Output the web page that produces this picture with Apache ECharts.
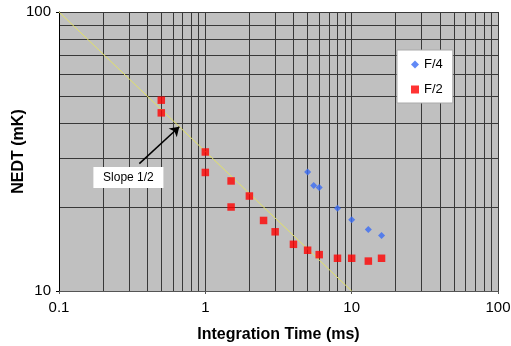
<!DOCTYPE html>
<html><head><meta charset="utf-8">
<script src="https://cdn.jsdelivr.net/npm/echarts@6/dist/echarts.min.js"></script>
<style>html,body{margin:0;padding:0;background:#fff}#c{width:511px;height:346px}</style>
</head><body><div id="c"></div>
<script>
// Data
const f4Time = [5, 5.5, 6, 8, 10, 13, 16];
const f4Nedt = [26.7, 23.9, 23.5, 19.8, 18.0, 16.6, 15.8];
const f2Time = [0.5, 0.5, 1, 1, 1.5, 1.5, 2, 2.5, 3, 4, 5, 6, 8, 10, 13, 16];
const f2Nedt = [48.3, 43.5, 31.5, 26.6, 24.8, 20.0, 21.9, 17.9, 16.3, 14.7, 14.0, 13.5, 13.1, 13.1, 12.8, 13.1];
const slopeTime = [0.1, 10];
const slopeNedt = [100, 10];
const xMinorGrid = [0.2,0.3,0.4,0.5,0.6,0.7,0.8,0.9,2,3,4,5,6,7,8,9,20,30,40,50,60,70,80,90];
const yMinorGrid = [20,30,40,50,60,70,80,90];
const xTickLabels = ['0.1','1','10','100'];
const yTickLabels = ['10','100'];

const FONT = 'Liberation Sans, Arial, sans-serif';
const GRIDC = '#383838';
const zip = (a, b) => a.map((v, i) => [v, b[i]]);

const chart = echarts.init(document.getElementById('c'), null, {renderer: 'canvas'});
chart.setOption({
  animation: false,
  textStyle: {fontFamily: FONT},
  grid: {left: 59, right: 13, top: 12, bottom: 55, show: true, backgroundColor: '#c0c0c0', borderWidth: 0,
    containLabel: false, outerBoundsMode: 'none'},
  xAxis: {
    type: 'log', logBase: 10, min: 0.1, max: 100,
    name: 'Integration Time (ms)', nameLocation: 'middle', nameGap: 36, nameMoveOverlap: false,
    nameTextStyle: {fontFamily: FONT, fontSize: 16, fontWeight: 'bold', color: '#000'},
    axisLine: {show: true, lineStyle: {color: '#555', width: 1}},
    axisTick: {show: true, length: 3, lineStyle: {color: '#555'}},
    axisLabel: {fontFamily: FONT, fontSize: 15, color: '#000', margin: 9,
      formatter: v => xTickLabels.find(t => Math.abs(parseFloat(t) - v) < 1e-9 * Math.max(1, v)) || ''},
    splitLine: {show: true, lineStyle: {color: GRIDC, width: 1}}
  },
  yAxis: {
    type: 'log', logBase: 10, min: 10, max: 100,
    name: 'NEDT (mK)', nameLocation: 'middle', nameGap: 32, nameMoveOverlap: false,
    nameTextStyle: {fontFamily: FONT, fontSize: 16, fontWeight: 'bold', color: '#000'},
    axisLine: {show: true, lineStyle: {color: '#000', width: 1}},
    axisTick: {show: true, length: 3, lineStyle: {color: '#000'}},
    axisLabel: {fontFamily: FONT, fontSize: 15, color: '#000', margin: 8,
      formatter: v => yTickLabels.find(t => Math.abs(parseFloat(t) - v) < 1e-9 * v) || ''},
    splitLine: {show: true, lineStyle: {color: GRIDC, width: 1}}
  },
  legend: {
    orient: 'vertical', left: 397, top: 50,
    backgroundColor: '#fff', borderColor: '#aaa', borderWidth: 1, borderRadius: 0,
    padding: [8, 10, 7, 14], itemGap: 12, itemWidth: 8, itemHeight: 8,
    textStyle: {fontFamily: FONT, fontSize: 13, color: '#000'},
    data: [{name: 'F/4', icon: 'diamond'}, {name: 'F/2', icon: 'rect'}]
  },
  series: [
    {
      name: 'grid', type: 'line', data: [], silent: true, z: 0,
      markLine: {
        silent: true, symbol: ['none', 'none'], label: {show: false}, z: 0,
        lineStyle: {color: GRIDC, width: 1, type: 'solid'},
        emphasis: {disabled: true},
        data: xMinorGrid.map(v => ({xAxis: v})).concat(yMinorGrid.map(v => ({yAxis: v})))
      }
    },
    {
      name: 'slope', type: 'line', data: zip(slopeTime, slopeNedt), symbol: 'none', silent: true, z: 1,
      lineStyle: {color: '#e2e264', width: 1}
    },
    {
      name: 'arrow', type: 'line', data: [], silent: true, z: 5,
      markLine: {
        silent: true, symbol: ['none', 'arrow'], symbolSize: 9, label: {show: false},
        lineStyle: {color: '#000', width: 1.5, type: 'solid'},
        data: [[{coord: [0.354, 28.6]}, {coord: [0.664, 38.8]}]]
      },
      markPoint: {
        silent: true,
        data: [{coord: [0.298, 25.5], symbol: 'rect', symbolSize: [70, 21],
          itemStyle: {color: '#fff'},
          label: {show: true, formatter: 'Slope 1/2', color: '#000', fontFamily: FONT, fontSize: 12, position: 'inside'}}]
      }
    },
    {
      name: 'F/4', type: 'scatter', data: zip(f4Time, f4Nedt), symbol: 'diamond', symbolSize: 7, z: 10,
      itemStyle: {color: '#3a6cf4'}
    },
    {
      name: 'F/2', type: 'scatter', data: zip(f2Time, f2Nedt), symbol: 'rect', symbolSize: 7.5, z: 10,
      itemStyle: {color: '#ff0000'}
    }
  ]
});
</script></body></html>
